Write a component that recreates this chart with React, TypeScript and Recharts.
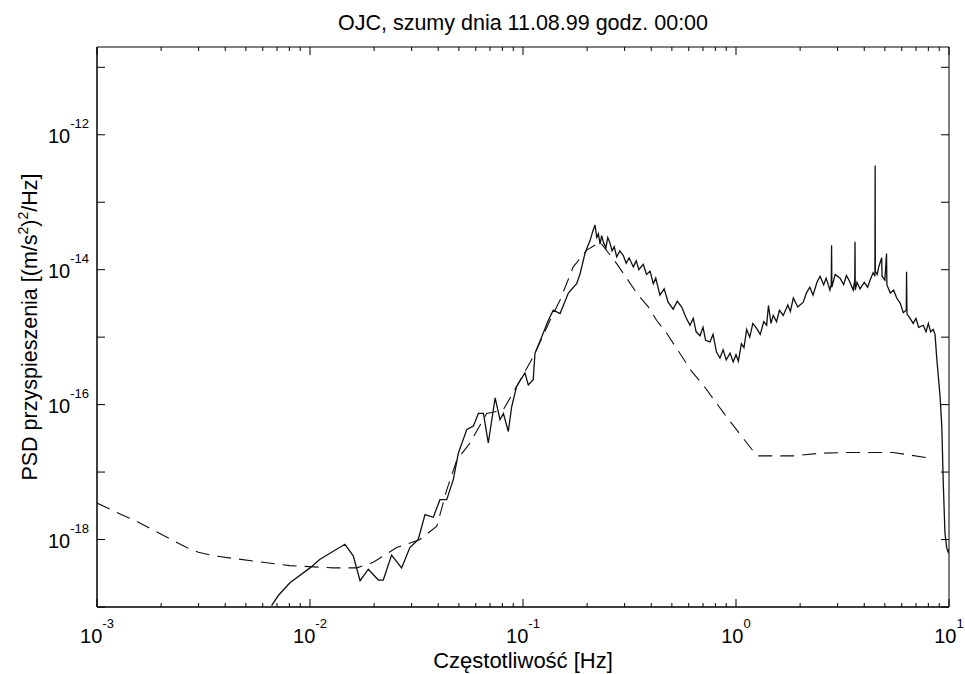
import { LineChart, Line, XAxis, YAxis, ReferenceArea } from 'recharts';

// plot box (px), matches the MATLAB figure layout
const W = 965;
const H = 674;
const LEFT = 97;
const RIGHT = 949;
const TOP = 47;
const BOTTOM = 607;
const Y_AXIS_W = 60;
const X_AXIS_H = 40;
const FONT = '"Liberation Sans", Arial, Helvetica, sans-serif';

// measured noise PSD (solid)
const solidFreq = [
    0.0066, 0.0071, 0.00805, 0.01, 0.01114, 0.01459, 0.01596, 0.01718, 0.01879, 0.02094,
    0.02208, 0.02415, 0.02692, 0.02944, 0.03221, 0.03467, 0.03793, 0.04074, 0.04385, 0.0471,
    0.0497, 0.0545, 0.0585, 0.0617, 0.0652, 0.0687, 0.074, 0.078, 0.0809, 0.0853,
    0.0885, 0.0933, 0.1021, 0.1059, 0.1117, 0.1138, 0.1245, 0.1315, 0.1387, 0.1493,
    0.1633, 0.1786, 0.1854, 0.1954, 0.201, 0.2065, 0.212, 0.2178, 0.222, 0.2259,
    0.23, 0.234, 0.2382, 0.245, 0.25, 0.2559, 0.262, 0.268, 0.2754, 0.285,
    0.2958, 0.305, 0.315, 0.3296, 0.34, 0.35, 0.367, 0.38, 0.395, 0.409,
    0.42, 0.4395, 0.46, 0.48, 0.507, 0.53, 0.556, 0.58, 0.608, 0.63,
    0.65, 0.678, 0.7, 0.72, 0.755, 0.78, 0.81, 0.841, 0.87, 0.9,
    0.938, 0.97, 1.0, 1.026, 1.06, 1.09, 1.122, 1.16, 1.2, 1.25,
    1.3, 1.35, 1.393, 1.42, 1.46, 1.496, 1.55, 1.6, 1.667, 1.75,
    1.8, 1.858, 1.95, 2.07, 2.14, 2.22, 2.3, 2.4, 2.48, 2.58,
    2.65, 2.76, 2.8, 2.81, 2.82, 2.92, 3.08, 3.2, 3.3, 3.43,
    3.55, 3.61, 3.62, 3.63, 3.7, 3.82, 4.0, 4.15, 4.26, 4.4,
    4.49, 4.5, 4.51, 4.6, 4.68, 4.83, 4.85, 5.0, 5.09, 5.11,
    5.3, 5.5, 5.68, 5.9, 6.1, 6.3, 6.32, 6.35, 6.5, 6.79,
    7.0, 7.2, 7.57, 7.8, 8.0, 8.2, 8.43, 8.6, 8.75, 9.08,
    9.25, 9.4, 9.57, 9.75, 9.91, 10.0,
];
const solidPsd = [
    1.05e-19, 1.48e-19, 2.29e-19, 3.8e-19, 5.1e-19, 8.5e-19, 5.75e-19, 2.45e-19, 3.63e-19, 2.51e-19,
    2.51e-19, 5.9e-19, 3.8e-19, 7.6e-19, 1.0e-18, 2.34e-18, 2.14e-18, 3.9e-18, 3.9e-18, 7.8e-18,
    1.9e-17, 4.3e-17, 4.8e-17, 7.4e-17, 7.4e-17, 2.7e-17, 1.26e-16, 6.0e-17, 7.4e-17, 4.0e-17,
    9.3e-17, 1.86e-16, 2.95e-16, 1.95e-16, 2.34e-16, 5.75e-16, 1.15e-15, 1.78e-15, 2.51e-15, 2.24e-15,
    4.5e-15, 6.2e-15, 8.7e-15, 1.74e-14, 2.2e-14, 2.7e-14, 3.6e-14, 4.6e-14, 3.0e-14, 3.4e-14,
    2.4e-14, 3.2e-14, 2.57e-14, 2.1e-14, 3.0e-14, 2.5e-14, 1.9e-14, 2.2e-14, 1.55e-14, 1.9e-14,
    1.62e-14, 1.25e-14, 1.5e-14, 1.1e-14, 1.35e-14, 1.0e-14, 1.2e-14, 8.5e-15, 9.5e-15, 6.2e-15,
    7.5e-15, 4.2e-15, 5.2e-15, 3.3e-15, 2.6e-15, 3.4e-15, 2.8e-15, 2.0e-15, 1.5e-15, 1.9e-15,
    1.2e-15, 1.05e-15, 1.4e-15, 9.0e-16, 8.5e-16, 1.1e-15, 6.0e-16, 4.9e-16, 6.5e-16, 4.6e-16,
    5.8e-16, 4.3e-16, 5.5e-16, 4.4e-16, 8.0e-16, 7.0e-16, 1.3e-15, 1.0e-15, 1.6e-15, 1.35e-15,
    1.1e-15, 1.7e-15, 1.5e-15, 2.95e-15, 1.6e-15, 2.1e-15, 1.7e-15, 2.5e-15, 2.1e-15, 3.0e-15,
    2.4e-15, 3.8e-15, 2.8e-15, 3.3e-15, 4.5e-15, 5.5e-15, 4.2e-15, 6.5e-15, 8.0e-15, 6.0e-15,
    7.5e-15, 5.0e-15, 6.0e-15, 2.3e-14, 5.5e-15, 8.5e-15, 7.5e-15, 6.0e-15, 8.2e-15, 6.5e-15,
    5.0e-15, 7.0e-15, 2.6e-14, 5.0e-15, 6.5e-15, 5.2e-15, 6.5e-15, 5.5e-15, 7.0e-15, 9.0e-15,
    8.0e-15, 3.5e-13, 9.5e-15, 8.5e-15, 1.1e-14, 1.5e-14, 8.0e-15, 7.0e-15, 1.74e-14, 6.0e-15,
    4.5e-15, 5.0e-15, 3.8e-15, 3.2e-15, 2.3e-15, 2.5e-15, 9.3e-15, 2.2e-15, 2.0e-15, 1.6e-15,
    1.9e-15, 1.4e-15, 1.5e-15, 1.2e-15, 1.6e-15, 1.2e-15, 1.3e-15, 1.1e-15, 5.1e-16, 1.32e-16,
    4.8e-17, 6.9e-18, 1.26e-18, 7.5e-19, 6.5e-19, 7.2e-19,
];

// model / reference curve (dashed)
const dashFreq = [
    0.001, 0.001306, 0.001535, 0.002636, 0.002992, 0.003516, 0.00542, 0.00805, 0.01288, 0.01656,
    0.01982, 0.02553, 0.0328, 0.0394, 0.0439, 0.0489, 0.0564, 0.0675, 0.0807, 0.0933,
    0.1117, 0.134, 0.1493, 0.1722, 0.1991, 0.2301, 0.2754, 0.342, 0.3873, 0.4236,
    0.4721, 0.6194, 0.7015, 0.8872, 1.081, 1.227, 1.274, 1.858, 2.477, 3.304,
    5.47, 6.32, 8.0,
];
const dashPsd = [
    3.47e-18, 2.34e-18, 1.86e-18, 7.6e-19, 6.5e-19, 5.75e-19, 4.8e-19, 4.1e-19, 3.8e-19, 3.8e-19,
    4.6e-19, 7.6e-19, 1.0e-18, 1.58e-18, 5.5e-18, 1.51e-17, 2.7e-17, 7.4e-17, 8.3e-17, 1.86e-16,
    5.1e-16, 1.78e-15, 3.55e-15, 1.1e-14, 1.95e-14, 2.57e-14, 1.23e-14, 4.5e-15, 2.82e-15, 1.78e-15,
    1.15e-15, 3.1e-16, 1.95e-16, 7.1e-17, 3.16e-17, 1.9e-17, 1.74e-17, 1.74e-17, 1.9e-17, 1.95e-17,
    1.95e-17, 1.82e-17, 1.62e-17,
];

const xTicks = [
    0.001, 0.002, 0.003, 0.004, 0.005, 0.006, 0.007, 0.008, 0.009,
    0.01, 0.02, 0.03, 0.04, 0.05, 0.06, 0.07, 0.08, 0.09,
    0.1, 0.2, 0.3, 0.4, 0.5, 0.6, 0.7, 0.8, 0.9,
    1, 2, 3, 4, 5, 6, 7, 8, 9, 10,
];
const yTicks = [1e-19, 1e-18, 1e-17, 1e-16, 1e-15, 1e-14, 1e-13, 1e-12, 1e-11];
const yLabelledExp = [-12, -14, -16, -18];

const solidData = solidFreq.map((f, i) => ({ f, p: solidPsd[i] }));
const dashData = dashFreq.map((f, i) => ({ f, p: dashPsd[i] }));

function decade(v: number) {
    const l = Math.log10(v);
    const e = Math.round(l);
    return { e, major: Math.abs(l - e) < 1e-6 };
}

function XTick({ x, payload }: any) {
    const { e, major } = decade(payload.value);
    const len = major ? 8 : 4;
    return (
        <g>
            <line x1={x} x2={x} y1={BOTTOM} y2={BOTTOM - len} stroke="#000" />
            <line x1={x} x2={x} y1={TOP} y2={TOP + len} stroke="#000" />
            {major && (
                <text x={x} y={BOTTOM + 36} textAnchor="middle" fontFamily={FONT} fontSize={20} fill="#000">
                    10<tspan dy={-15} fontSize={13}>{e}</tspan>
                </text>
            )}
        </g>
    );
}

function YTick({ y, payload }: any) {
    const { e } = decade(payload.value);
    return (
        <g>
            <line x1={LEFT} x2={LEFT + 8} y1={y} y2={y} stroke="#000" />
            <line x1={RIGHT} x2={RIGHT - 8} y1={y} y2={y} stroke="#000" />
            {yLabelledExp.includes(e) && (
                <text x={89} y={y + 8} textAnchor="end" fontFamily={FONT} fontSize={20} fill="#000">
                    10<tspan dy={-15} fontSize={13}>{e}</tspan>
                </text>
            )}
        </g>
    );
}

export default function App() {
    return (
        <div style={{ position: 'absolute', left: 0, top: 0, width: W, height: H, background: '#fff' }}>
            <LineChart
                width={W}
                height={H}
                margin={{ top: TOP, right: W - RIGHT, bottom: H - BOTTOM - X_AXIS_H, left: LEFT - Y_AXIS_W }}
            >
                <XAxis
                    dataKey="f"
                    type="number"
                    scale="log"
                    domain={[0.001, 10]}
                    allowDataOverflow
                    ticks={xTicks}
                    interval={0}
                    height={X_AXIS_H}
                    tickLine={false}
                    axisLine={{ stroke: '#000' }}
                    tick={(props: any) => <XTick {...props} />}
                />
                <YAxis
                    type="number"
                    scale="log"
                    domain={[1e-19, 2e-11]}
                    allowDataOverflow
                    ticks={yTicks}
                    interval={0}
                    width={Y_AXIS_W}
                    tickLine={false}
                    axisLine={{ stroke: '#000' }}
                    tick={(props: any) => <YTick {...props} />}
                />
                <ReferenceArea x1={0.001} x2={10} y1={1e-19} y2={2e-11} fill="none" stroke="#000" strokeWidth={1} />
                <Line
                    data={dashData}
                    dataKey="p"
                    type="linear"
                    stroke="#111"
                    strokeWidth={1.1}
                    strokeDasharray="14 8"
                    dot={false}
                    isAnimationActive={false}
                />
                <Line
                    data={solidData}
                    dataKey="p"
                    type="linear"
                    stroke="#111"
                    strokeWidth={1.3}
                    dot={false}
                    isAnimationActive={false}
                />
            </LineChart>
            <svg width={W} height={H} style={{ position: 'absolute', left: 0, top: 0, pointerEvents: 'none' }}>
                <text x={(LEFT + RIGHT) / 2} y={30} textAnchor="middle" fontFamily={FONT} fontSize={21.5} fill="#000">
                    OJC, szumy dnia 11.08.99 godz. 00:00
                </text>
                <text x={(LEFT + RIGHT) / 2} y={668} textAnchor="middle" fontFamily={FONT} fontSize={22} fill="#000">
                    Częstotliwość [Hz]
                </text>
                <text
                    transform={`translate(37, ${(TOP + BOTTOM) / 2}) rotate(-90)`}
                    textAnchor="middle"
                    fontFamily={FONT}
                    fontSize={21.5}
                    fill="#000"
                >
                    PSD przyspieszenia [(m/s<tspan dy={-9} fontSize={14}>2</tspan>
                    <tspan dy={9}>)</tspan>
                    <tspan dy={-9} fontSize={14}>2</tspan>
                    <tspan dy={9}>/Hz]</tspan>
                </text>
            </svg>
        </div>
    );
}
